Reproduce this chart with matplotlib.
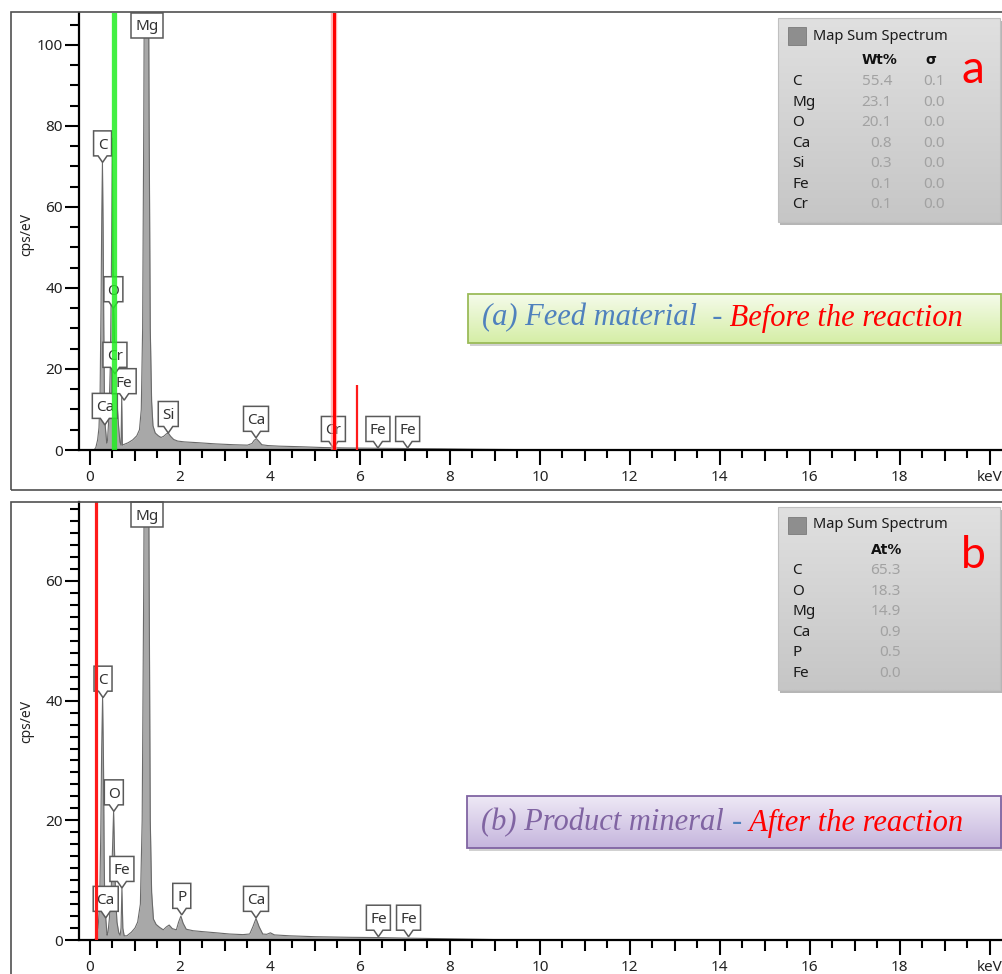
import numpy as np
import matplotlib
matplotlib.use("Agg")
import matplotlib.pyplot as plt
from matplotlib.patches import Rectangle, Polygon
from matplotlib import transforms
from matplotlib.ticker import MultipleLocator, FixedLocator, FuncFormatter
from matplotlib.colors import to_rgb

plt.rcParams['font.family'] = ['Noto Sans', 'DejaVu Sans']

# ---------------- data ----------------
a_kev = [0.00, 0.09, 0.13, 0.17, 0.20, 0.225, 0.245, 0.262, 0.277, 0.292, 0.307, 0.322, 0.338,
         0.355, 0.372, 0.39, 0.42, 0.45, 0.475, 0.497, 0.51, 0.525, 0.55, 0.57, 0.60, 0.635,
         0.665, 0.69, 0.705, 0.72, 0.76, 0.85, 0.95, 1.04, 1.10, 1.14, 1.17, 1.195, 1.225,
         1.254, 1.285, 1.315, 1.34, 1.37, 1.40, 1.45, 1.52, 1.58, 1.64, 1.70, 1.74, 1.79,
         1.86, 1.95, 2.1, 2.4, 2.8, 3.2, 3.5, 3.6, 3.65, 3.70, 3.75, 3.82, 3.95, 4.2, 4.7,
         5.2, 5.7, 6.2, 6.7, 7.2, 7.8, 8.5, 9.5, 10.5, 11.5, 20.3]
a_cps = [0, 0, 0.6, 2.5, 5.5, 14, 35, 58, 71, 55, 30, 12, 6,
         4, 1.7, 2.5, 8, 20, 42, 77, 48, 35, 25, 20, 12, 6,
         2, 1.2, 13, 1.2, 1.4, 1.8, 2.5, 3.5, 5, 10, 30, 80, 160,
         230, 160, 80, 30, 12, 6, 4.2, 3.5, 3.1, 3.4, 4.0, 4.2, 3.4,
         2.6, 2.2, 2.0, 1.8, 1.5, 1.3, 1.2, 1.6, 2.4, 2.8, 2.2, 1.3, 1.1, 0.95, 0.8,
         0.6, 0.5, 0.45, 0.4, 0.35, 0.3, 0.2, 0.1, 0.05, 0, 0]

b_kev = [0.00, 0.10, 0.14, 0.18, 0.215, 0.24, 0.26, 0.28, 0.30, 0.315, 0.33, 0.35, 0.38,
         0.40, 0.43, 0.47, 0.50, 0.525, 0.545, 0.57, 0.60, 0.64, 0.67, 0.69, 0.71, 0.73,
         0.76, 0.82, 0.92, 1.00, 1.06, 1.12, 1.16, 1.195, 1.225, 1.254, 1.285, 1.315, 1.34,
         1.37, 1.41, 1.47, 1.55, 1.63, 1.70, 1.76, 1.83, 1.92, 1.97, 2.02, 2.07, 2.14, 2.29,
         2.5, 2.81, 3.1, 3.4, 3.55, 3.62, 3.69, 3.76, 3.84, 3.93, 4.01, 4.1, 4.44, 5.0,
         5.78, 6.44, 7.0, 8.0, 9.0, 10.0, 20.3]
b_cps = [0, 0, 0.5, 2, 6, 18, 32, 40.5, 30, 14, 5.5, 3.7, 0.8,
         1.2, 3.5, 8, 15, 21.5, 15, 7, 3, 1.2, 0.8, 2, 8.7, 2,
         0.7, 0.7, 1.3, 2, 3, 6, 20, 60, 110, 140, 110, 60, 20,
         8, 3.5, 2.6, 2.1, 1.7, 2.2, 2.5, 1.9, 1.7, 3, 4.0, 2.8, 1.8, 1.55,
         1.4, 1.2, 1.0, 0.9, 1.0, 2.2, 3.6, 2.2, 1.0, 0.95, 1.2, 0.85, 0.7, 0.55,
         0.45, 0.4, 0.32, 0.2, 0.07, 0, 0]

# peak labels: (element, keV, cps at pointer tip)
a_peak_el = ["Ca", "Fe", "Cr", "O", "C", "Si", "Ca", "Cr", "Fe", "Fe"]
a_peak_kev = [0.33, 0.76, 0.555, 0.52, 0.28, 1.74, 3.69, 5.41, 6.40, 7.06]
a_peak_cps = [6.2, 12.3, 18.8, 35, 71, 4.2, 3.0, 0.5, 0.5, 0.5]
a_top_el, a_top_kev = "Mg", 1.26

b_peak_el = ["Ca", "Fe", "O", "C", "P", "Ca", "Fe", "Fe"]
b_peak_kev = [0.35, 0.71, 0.53, 0.29, 2.04, 3.69, 6.41, 7.08]
b_peak_cps = [3.7, 8.7, 21.5, 40.5, 4.2, 3.7, 0.55, 0.55]
b_top_el, b_top_kev = "Mg", 1.27

# marker lines (keV)
a_green_kev = 0.543
a_red_kev = 5.42
a_red_small_kev, a_red_small_top = 5.94, 16
b_red_kev = 0.13

# quantification tables
a_elems = ["C", "Mg", "O", "Ca", "Si", "Fe", "Cr"]
a_wt = ["55.4", "23.1", "20.1", "0.8", "0.3", "0.1", "0.1"]
a_sigma = ["0.1", "0.0", "0.0", "0.0", "0.0", "0.0", "0.0"]
b_elems = ["C", "O", "Mg", "Ca", "P", "Fe"]
b_at = ["65.3", "18.3", "14.9", "0.9", "0.5", "0.0"]

x_major = list(range(0, 21))
a_ymajor = [0, 20, 40, 60, 80, 100]
b_ymajor = [0, 20, 40, 60]

# ---------------- figure ----------------
W, H, DPI = 1002, 974, 100
fig = plt.figure(figsize=(W / DPI, H / DPI), dpi=DPI)


def fr(x, y, w, h):
    return [x / W, 1 - (y + h) / H, w / W, h / H]


def P(x, y):
    return (x / W, 1 - y / H)


XMIN, XMAX = -0.244, 20.27
axA = fig.add_axes(fr(79, 12.5, 923, 437.5))
axB = fig.add_axes(fr(79, 502, 923, 438))
A_YMAX = 108.0
B_YMAX = 73.2

BOX_W = {'C': 18, 'O': 19, 'Mg': 32, 'Cr': 24, 'Fe': 24, 'Ca': 25, 'Si': 20, 'P': 18}


def callout(ax, text, x, y, top=False):
    trans = fig.dpi_scale_trans + transforms.ScaledTranslation(x, y, ax.transData)
    w = BOX_W[text] / 100 / 2
    bh = 25 / 100
    ph = 6.5 / 100
    pw = 4.5 / 100
    if top:
        verts = [(-w, -0.005), (w, -0.005), (w, -bh), (-w, -bh)]
        ty = -bh / 2
    else:
        verts = [(-w, ph + bh), (w, ph + bh), (w, ph), (pw, ph), (0, 0), (-pw, ph), (-w, ph)]
        ty = ph + bh / 2
    poly = Polygon(verts, closed=True, transform=trans, facecolor='white',
                   edgecolor='#5a5a5a', lw=1.1, zorder=3, clip_on=False)
    ax.add_patch(poly)
    ax.text(0, ty, text, transform=trans, ha='center', va='center_baseline',
            fontsize=11, color='#333333', zorder=3.1)


def style(ax, ymax, ymajor, yminor):
    ax.set_facecolor('none')
    for s in ['top', 'right']:
        ax.spines[s].set_visible(False)
    for s in ['left', 'bottom']:
        ax.spines[s].set_linewidth(1.6)
        ax.spines[s].set_color('black')
    ax.xaxis.set_major_locator(FixedLocator(x_major))
    ax.xaxis.set_minor_locator(MultipleLocator(0.5))

    def fmt(v, pos):
        iv = int(round(v))
        if iv == 20:
            return 'keV'
        return str(iv) if iv % 2 == 0 else ''
    ax.xaxis.set_major_formatter(FuncFormatter(fmt))
    ax.yaxis.set_major_locator(FixedLocator(ymajor))
    ax.yaxis.set_minor_locator(MultipleLocator(yminor))
    ax.tick_params(axis='x', which='major', length=10.8, width=1.5, direction='out',
                   pad=3.5, labelsize=11, labelcolor='#222222')
    ax.tick_params(axis='x', which='minor', length=5.8, width=1.5, direction='out')
    ax.tick_params(axis='y', which='major', length=10, width=1.5, direction='out',
                   pad=1.5, labelsize=11, labelcolor='#222222')
    ax.tick_params(axis='y', which='minor', length=6.5, width=1.5, direction='out')
    ax.set_xlim(XMIN, XMAX)
    ax.set_ylim(0, ymax)
    ticks = ax.xaxis.get_major_ticks()
    for t, v in zip(ticks, x_major):
        t.tick1line.set_markersize(10.8 if v % 2 == 0 else 7.9)


for ax, kev, cps in [(axA, a_kev, a_cps), (axB, b_kev, b_cps)]:
    ax.fill_between(kev, 0, cps, color='#a8a8a8', lw=0, zorder=2)
    ax.plot(kev, cps, color='#6a6a6a', lw=0.8, zorder=2.1)

style(axA, A_YMAX, a_ymajor, 5)
style(axB, B_YMAX, b_ymajor, 2)

for el, k, c in zip(a_peak_el, a_peak_kev, a_peak_cps):
    callout(axA, el, k, c)
callout(axA, a_top_el, a_top_kev, A_YMAX, top=True)
for el, k, c in zip(b_peak_el, b_peak_kev, b_peak_cps):
    callout(axB, el, k, c)
callout(axB, b_top_el, b_top_kev, B_YMAX, top=True)

# marker lines
axA.axvline(a_green_kev, color='#22ee22', lw=3.8, alpha=0.85, zorder=4)
axA.axvline(a_red_kev, color='#ff8a8a', lw=4.6, alpha=0.6, zorder=4)
axA.axvline(a_red_kev, color='#ff0000', lw=2.2, zorder=4.1)
axA.vlines(a_red_small_kev, 0, a_red_small_top, color='#ff1a1a', lw=1.6, zorder=4)
axB.axvline(b_red_kev, color='#ff1a1a', lw=2.3, zorder=4)

# y labels
fig.text(*P(27, 234), 'cps/eV', rotation=90, ha='center', va='center', fontsize=10, color='#222222')
fig.text(*P(27, 721), 'cps/eV', rotation=90, ha='center', va='center', fontsize=10, color='#222222')

# panel frames
fig.add_artist(Rectangle(P(11, 490), 1000 / W, 477.5 / H, transform=fig.transFigure,
                         fill=False, edgecolor='#505050', lw=1.2, zorder=1))
fig.add_artist(Rectangle(P(11, 1010), 1000 / W, 508 / H, transform=fig.transFigure,
                         fill=False, edgecolor='#505050', lw=1.2, zorder=1))


def grad_axes(x, y, w, h, c_top, c_bot, edge, lw, z):
    a = fig.add_axes(fr(x, y, w, h))
    a.set_zorder(z)
    t = np.linspace(0, 1, 100)[:, None, None]
    img = (1 - t) * np.array(to_rgb(c_top))[None, None, :] + t * np.array(to_rgb(c_bot))[None, None, :]
    a.imshow(img, aspect='auto', extent=[0, 1, 0, 1], interpolation='bilinear')
    a.set_xlim(0, 1)
    a.set_ylim(0, 1)
    a.set_axis_off()
    a.add_patch(Rectangle((0, 0), 1, 1, transform=a.transAxes, fill=False,
                          edgecolor=edge, lw=lw, clip_on=False))
    return a


def shadow(x, y, w, h, color='#7a7a7a', alpha=0.55):
    fig.add_artist(Rectangle(P(x + 2, y + h + 3), w / W, h / H, transform=fig.transFigure,
                             facecolor=color, edgecolor='none', alpha=alpha, zorder=1.5))


# ---- legend panels ----
shadow(778, 18, 222, 204)
grad_axes(778, 18, 222, 204, '#e0e0e0', '#c6c6c6', '#c0c0c0', 0.8, 2)
shadow(778, 507, 222, 183)
grad_axes(778, 507, 222, 183, '#e0e0e0', '#c6c6c6', '#c0c0c0', 0.8, 2)

for (y0, title_y) in [(18, 36), (507, 525)]:
    fig.add_artist(Rectangle(P(788, title_y + 8.5), 18 / W, 17 / H, transform=fig.transFigure,
                             facecolor='#8e8e8e', edgecolor='#7a7a7a', lw=0.6, zorder=3))
    fig.text(*P(813, title_y), 'Map Sum Spectrum', ha='left', va='center', fontsize=10.5,
             color='#1a1a1a', zorder=4)

bold = dict(family=['DejaVu Sans'], fontweight='bold', fontsize=10, color='#111111', zorder=4)
fig.text(*P(862, 60), 'Wt%', ha='left', va='center', **bold)
fig.text(*P(925, 60), 'σ', ha='left', va='center', **bold)
for i, (el, v, s) in enumerate(zip(a_elems, a_wt, a_sigma)):
    yy = 81.7 + i * 20.55
    fig.text(*P(792, yy), el, ha='left', va='center', fontsize=11, color='#1a1a1a', zorder=4)
    fig.text(*P(892, yy), v, ha='right', va='center', fontsize=11, color='#a2a2a2', zorder=4)
    fig.text(*P(945, yy), s, ha='right', va='center', fontsize=11, color='#a2a2a2', zorder=4)

fig.text(*P(871, 550), 'At%', ha='left', va='center', **bold)
for i, (el, v) in enumerate(zip(b_elems, b_at)):
    yy = 570.7 + i * 20.5
    fig.text(*P(792, yy), el, ha='left', va='center', fontsize=11, color='#1a1a1a', zorder=4)
    fig.text(*P(901, yy), v, ha='right', va='center', fontsize=11, color='#a2a2a2', zorder=4)

fig.text(*P(973, 83), 'a', ha='center', va='baseline', fontsize=33, color='#ff0000',
         family=['Lato', 'DejaVu Sans'], zorder=4)
fig.text(*P(973, 568), 'b', ha='center', va='baseline', fontsize=32, color='#ff0000',
         family=['Lato', 'DejaVu Sans'], zorder=4)

# ---- annotation boxes ----
shadow(468, 294, 533, 49, color='#9a9a9a', alpha=0.45)
grad_axes(468, 294, 533, 49, '#f5fbea', '#d5eea6', '#9bbb59', 1.3, 2)
shadow(467, 796, 534, 52, color='#9a9a9a', alpha=0.45)
grad_axes(467, 796, 534, 52, '#efeaf6', '#c5b5dd', '#8064a2', 1.3, 2)

renderer = fig.canvas.get_renderer()


def multi_text(x, y, parts, **kw):
    xd = x
    for s, c in parts:
        t = fig.text(*P(xd, y), s, color=c, ha='left', va='center', zorder=5, **kw)
        ex = t.get_window_extent(renderer)
        xd = ex.x1


serif = dict(family=['Liberation Serif', 'DejaVu Serif'], style='italic', fontsize=22)
multi_text(482, 318, [('(a) Feed material  -', '#4f81bd'), (' Before the reaction', '#ff0000')], **serif)
multi_text(481, 823, [('(b) Product mineral ', '#8064a2'), ('-', '#4f81bd'),
                      (' After the reaction', '#ff0000')], **serif)

fig.savefig('out.png', dpi=DPI)
